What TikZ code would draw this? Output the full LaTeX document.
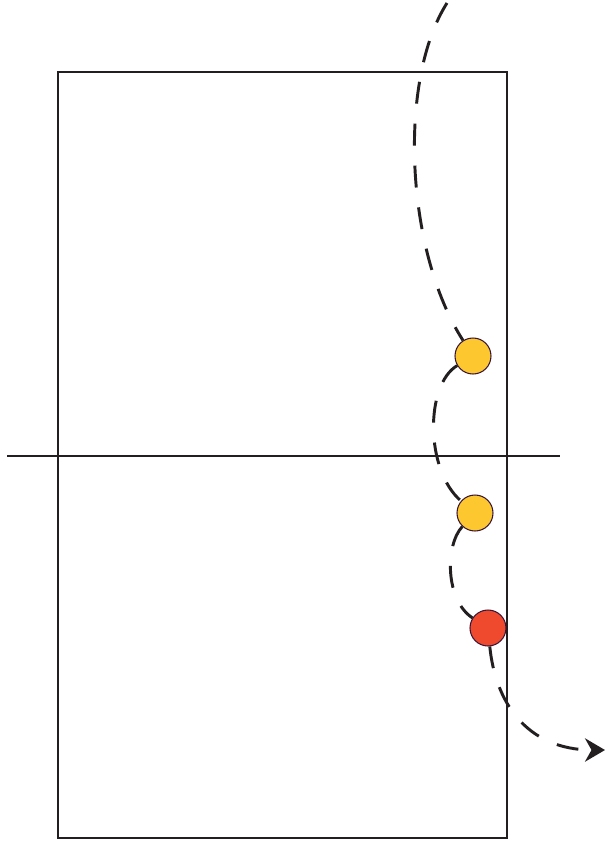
\documentclass[tikz,border=0pt]{standalone}
\usepackage{tikz}
\usepackage{xcolor}
\usetikzlibrary{arrows.meta}
\definecolor{ballyellow}{HTML}{FDC82F}
\definecolor{ballred}{HTML}{EF4A2E}
\definecolor{ballrim}{HTML}{3A1538}
\definecolor{inkline}{HTML}{231F20}
\begin{document}
\begin{tikzpicture}[
  x=0.03cm, y=-0.03cm,
  court/.style={draw=inkline, line width=2.5pt},
  ball/.style={circle, draw=ballrim, line width=0.9pt, minimum size=1.08cm, inner sep=0pt},
  flight/.style={draw=inkline, line width=2.5pt, dash pattern=on 0.66cm off 0.6cm}
]
  \useasboundingbox (0,0) rectangle (605,855);

  % Court outline and net (pixel-like units)
  \draw[court] (58,72) rectangle (507,838);
  \coordinate (netL) at (7,456);
  \coordinate (netR) at (560,456);
  \draw[court] (netL) -- (netR);

  % Balls along the trajectory
  \node[ball, fill=ballyellow] (first)  at (473,356) {};
  \node[ball, fill=ballyellow] (second) at (475,513) {};
  \node[ball, fill=ballred]    (third)  at (488,628) {};

  % Flight path -- start above the court, exit to the right
  \coordinate (start) at (447,3);
  \coordinate (exit)  at (605,750);
  \draw[flight] (start) .. controls (398,80) and (405,250) .. (first);
  \draw[flight] (first) .. controls (425,385) and (425,470) .. (second);
  \draw[flight] (second) .. controls (445,545) and (445,600) .. (third);
  \draw[flight, -{Stealth[length=0.6cm, width=0.7cm]}]
        (third) .. controls (495,700) and (525,750) .. (exit);
\end{tikzpicture}
\end{document}
